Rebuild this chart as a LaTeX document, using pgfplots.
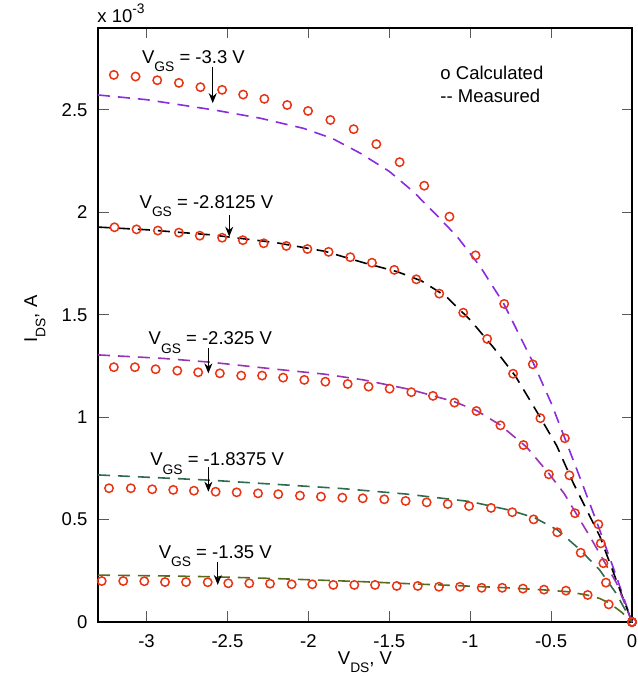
\documentclass[border=0pt]{standalone}
\usepackage{fontspec}
\setmainfont{Liberation Sans}
\usepackage{pgfplots}
\pgfplotsset{compat=1.18}
\usetikzlibrary{arrows.meta}
\definecolor{cviolet}{RGB}{138,43,226}
\definecolor{cmag}{RGB}{153,50,180}
\definecolor{cgreen}{RGB}{47,107,79}
\definecolor{colive}{RGB}{85,107,30}
\definecolor{cmark}{RGB}{232,52,20}
\newcommand{\sub}[1]{\raisebox{-0.45em}{\fontsize{6.9}{8}\selectfont #1}}
\newcommand{\fs}{\fontsize{9.25}{11}\selectfont}
\begin{document}
\fs
\begin{tikzpicture}
\begin{axis}[name=ax, scale only axis, width=267pt, height=297pt,
  xmin=-3.3, xmax=0, ymin=0, ymax=2.9,
  xtick={-3,-2.5,-2,-1.5,-1,-0.5,0}, xticklabels={-3,-2.5,-2,-1.5,-1,-0.5,0},
  ytick={0,0.5,1,1.5,2,2.5}, yticklabels={0,0.5,1,1.5,2,2.5},
  tick align=inside, major tick length=5.25pt,
  tick style={black!65, line width=0.5pt},
  axis line style={black, line width=0.6pt},
  ticklabel style={font=\fs},
  xticklabel style={yshift=-3pt},
  yticklabel style={xshift=-2pt},
  xlabel={V\sub{DS}, V},
  label style={font=\fs},
  xlabel style={at={(rel axis cs:0.5,0)}, anchor=base, yshift=-21pt},
  clip=false,
  every axis plot/.append style={line width=0.8pt},
  meas/.style={no marks, dash pattern=on 6pt off 4pt},
  calc/.style={only marks, mark=o, mark size=2.1pt, color=cmark, mark options={line width=0.75pt}},
]
% Calculated
\addplot[calc] coordinates {
(-3.202,2.671) (-3.068,2.663) (-2.934,2.645) (-2.800,2.632) (-2.667,2.611) (-2.533,2.598)
(-2.403,2.575) (-2.272,2.554) (-2.131,2.524) (-2.002,2.495) (-1.864,2.451) (-1.720,2.406)
(-1.580,2.333) (-1.436,2.245) (-1.284,2.130) (-1.128,1.979) (-0.967,1.790) (-0.790,1.553)
(-0.613,1.258) (-0.415,0.897) (-0.208,0.477) (0,0)};
\addplot[calc] coordinates {
(-3.198,1.927) (-3.062,1.917) (-2.930,1.911) (-2.800,1.901) (-2.671,1.886) (-2.533,1.876)
(-2.405,1.864) (-2.276,1.849) (-2.136,1.836) (-2.006,1.821) (-1.875,1.807) (-1.741,1.781)
(-1.607,1.754) (-1.469,1.719) (-1.333,1.673) (-1.191,1.603) (-1.043,1.510) (-0.895,1.382)
(-0.735,1.212) (-0.566,0.995) (-0.387,0.716) (-0.193,0.384) (0,0)};
\addplot[calc] coordinates {
(-3.202,1.244) (-3.072,1.244) (-2.944,1.234) (-2.810,1.227) (-2.681,1.219) (-2.547,1.214)
(-2.415,1.203) (-2.286,1.203) (-2.156,1.193) (-2.025,1.182) (-1.895,1.173) (-1.757,1.162)
(-1.628,1.149) (-1.498,1.139) (-1.364,1.122) (-1.230,1.104) (-1.097,1.071) (-0.961,1.030)
(-0.813,0.960) (-0.671,0.864) (-0.514,0.721) (-0.352,0.531) (-0.177,0.287) (0,0)};
\addplot[calc] coordinates {
(-3.232,0.653) (-3.097,0.653) (-2.965,0.648) (-2.835,0.645) (-2.707,0.641) (-2.573,0.636)
(-2.443,0.633) (-2.311,0.628) (-2.186,0.624) (-2.052,0.617) (-1.922,0.612) (-1.790,0.607)
(-1.664,0.604) (-1.531,0.599) (-1.399,0.591) (-1.269,0.584) (-1.139,0.576) (-1.007,0.566)
(-0.871,0.557) (-0.740,0.536) (-0.608,0.501) (-0.462,0.438) (-0.317,0.338) (-0.161,0.192) (0,0)};
\addplot[calc] coordinates {
(-3.277,0.200) (-3.144,0.200) (-3.014,0.199) (-2.886,0.195) (-2.756,0.195) (-2.622,0.194)
(-2.495,0.189) (-2.365,0.189) (-2.237,0.187) (-2.103,0.184) (-1.976,0.184) (-1.846,0.181)
(-1.716,0.181) (-1.588,0.181) (-1.454,0.176) (-1.324,0.176) (-1.193,0.172) (-1.063,0.172)
(-0.929,0.167) (-0.802,0.167) (-0.674,0.163) (-0.544,0.158) (-0.408,0.153) (-0.274,0.132)
(-0.144,0.086) (0,0)};
% Measured
\addplot[meas, color=cviolet] coordinates {
(-3.3,2.573) (-3.0,2.55) (-2.585,2.5) (-2.3,2.46) (-2.03,2.41) (-1.85,2.36) (-1.68,2.289)
(-1.5,2.2) (-1.35,2.1) (-1.2,1.98) (-1.08,1.881) (-0.938,1.735) (-0.794,1.556) (-0.609,1.263)
(-0.5,1.07) (-0.403,0.872) (-0.3,0.66) (-0.2,0.45) (-0.1,0.23) (0,0)};
\addplot[meas, color=black] coordinates {
(-3.3,1.928) (-3.0,1.915) (-2.6,1.89) (-2.2,1.852) (-1.9,1.81) (-1.65,1.752) (-1.45,1.71)
(-1.3,1.665) (-1.15,1.59) (-1.0,1.475) (-0.856,1.34) (-0.72,1.2) (-0.568,1.0) (-0.465,0.86)
(-0.362,0.677) (-0.198,0.417) (-0.1,0.21) (0,0)};
\addplot[meas, color=cmag] coordinates {
(-3.3,1.304) (-2.9,1.287) (-2.6,1.268) (-2.2,1.234) (-1.9,1.21) (-1.66,1.182) (-1.37,1.135)
(-1.1,1.076) (-0.96,1.032) (-0.815,0.962) (-0.65,0.853) (-0.51,0.721) (-0.42,0.628)
(-0.26,0.417) (-0.095,0.189) (0,0)};
\addplot[meas, color=cgreen] coordinates {
(-3.3,0.718) (-3.0,0.707) (-2.6,0.692) (-2.2,0.672) (-1.8,0.652) (-1.4,0.625) (-1.0,0.588)
(-0.75,0.545) (-0.6,0.508) (-0.46,0.449) (-0.32,0.352) (-0.2,0.254) (-0.1,0.142) (0,0)};
\addplot[meas, color=colive] coordinates {
(-3.3,0.229) (-2.9,0.225) (-2.6,0.221) (-2.2,0.212) (-1.67,0.197) (-1.35,0.186) (-1.06,0.177)
(-0.8,0.168) (-0.55,0.157) (-0.4,0.148) (-0.28,0.132) (-0.2,0.115) (-0.136,0.091)
(-0.06,0.045) (0,0)};
% annotations
\node[anchor=base west, inner sep=0, font=\fs] at (axis cs:-3.030,2.729) {V\sub{GS} = -3.3 V};
\draw[-{Stealth[length=5pt,width=4pt]}, line width=0.5pt] (axis cs:-2.591,2.711) -- (axis cs:-2.591,2.533);
\node[anchor=base west, inner sep=0, font=\fs] at (axis cs:-3.045,2.020) {V\sub{GS} = -2.8125 V};
\draw[-{Stealth[length=5pt,width=4pt]}, line width=0.5pt] (axis cs:-2.489,1.987) -- (axis cs:-2.489,1.881);
\node[anchor=base west, inner sep=0, font=\fs] at (axis cs:-2.989,1.353) {V\sub{GS} = -2.325 V};
\draw[-{Stealth[length=5pt,width=4pt]}, line width=0.5pt] (axis cs:-2.618,1.336) -- (axis cs:-2.618,1.214);
\node[anchor=base west, inner sep=0, font=\fs] at (axis cs:-2.979,0.762) {V\sub{GS} = -1.8375 V};
\draw[-{Stealth[length=5pt,width=4pt]}, line width=0.5pt] (axis cs:-2.618,0.755) -- (axis cs:-2.618,0.636);
\node[anchor=base west, inner sep=0, font=\fs] at (axis cs:-2.927,0.311) {V\sub{GS} = -1.35 V};
\draw[-{Stealth[length=5pt,width=4pt]}, line width=0.5pt] (axis cs:-2.560,0.294) -- (axis cs:-2.560,0.181);
\node[anchor=base west, inner sep=0, font=\fs] at (axis cs:-1.186,2.650) {o Calculated};
\node[anchor=base west, inner sep=0, font=\fs] at (axis cs:-1.186,2.538) {{-}{-} Measured};
\node[anchor=base west, inner sep=0, font=\fs] at (rel axis cs:0,1) [yshift=2.7pt, xshift=-0.5pt] {x 10\raisebox{0.5em}{\fontsize{6.9}{8}\selectfont -3}};
\end{axis}
\node[font=\fs, anchor=center, inner sep=0] at ([xshift=-31.5pt,yshift=3pt]ax.west) {\rotatebox{90}{I\sub{DS}, A}};
\pgfresetboundingbox
\path[use as bounding box] ([xshift=-49pt,yshift=-27pt]ax.south west) rectangle ([xshift=2.5pt,yshift=14pt]ax.north east);
\end{tikzpicture}
\end{document}
